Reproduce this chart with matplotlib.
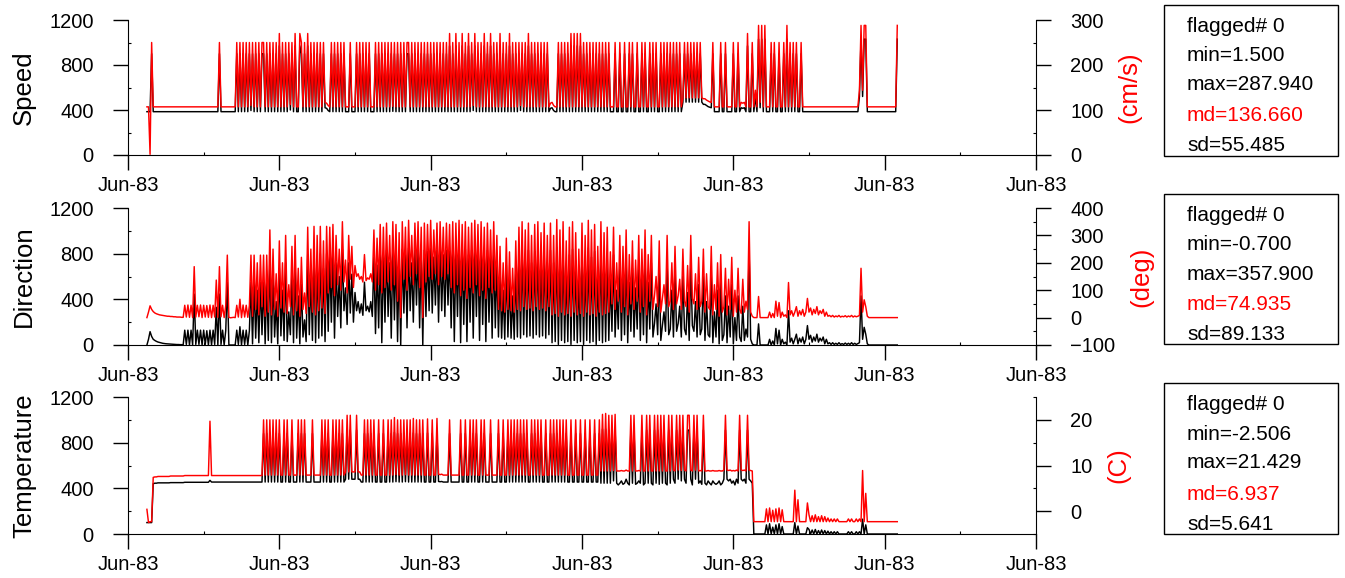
"""
Current meter record, three stacked panels: speed, direction, temperature.

Black trace = raw channel on the left axis, red trace = converted value on
the right axis. A small statistics box sits to the right of every panel.
"""

import matplotlib

matplotlib.use("Agg")
import matplotlib.dates as mdates
import matplotlib.pyplot as plt
import pandas as pd
from matplotlib.patches import Rectangle
from matplotlib.ticker import FixedLocator, MultipleLocator

plt.rcParams["font.family"] = ["Liberation Sans", "DejaVu Sans"]

# ============ data (hourly samples from 1983-06-02 12:00) ============
START = "1983-06-02 12:00"
STEP = "1h"

SPEED_CMS = [
    107, 107, 1.5, 250, 107, 107, 107, 107, 107, 107, 107, 107, 107, 107, 107, 107, 107, 107, 107, 107,
    107, 107, 107, 107, 107, 107, 107, 107, 107, 107, 107, 107, 107, 107, 107, 107, 107, 107, 107, 107,
    107, 107, 107, 107, 107, 107, 250, 107, 107, 107, 107, 107, 107, 107, 107, 107, 107, 250, 107, 250,
    107, 250, 107, 250, 107, 250, 110, 250, 107, 250, 107, 250, 107, 250, 250, 107, 250, 107, 250, 107,
    250, 107, 250, 107, 270, 107, 250, 107, 250, 107, 250, 112, 250, 107, 270, 107, 107, 270, 250, 107,
    250, 107, 270, 107, 250, 107, 250, 107, 250, 107, 250, 107, 250, 117, 115, 110, 107, 250, 107, 250,
    107, 250, 107, 250, 107, 250, 107, 107, 107, 250, 107, 107, 107, 250, 107, 250, 107, 250, 107, 250,
    107, 250, 107, 107, 107, 250, 107, 250, 107, 250, 107, 250, 107, 250, 107, 250, 108, 250, 107, 250,
    107, 250, 107, 250, 107, 250, 250, 107, 250, 107, 250, 107, 250, 107, 250, 107, 250, 107, 250, 107,
    250, 107, 250, 107, 250, 107, 250, 107, 250, 107, 250, 107, 270, 107, 250, 107, 270, 107, 250, 107,
    270, 107, 250, 107, 270, 107, 250, 110, 270, 107, 250, 107, 250, 107, 270, 107, 250, 107, 270, 107,
    250, 107, 250, 107, 270, 107, 250, 107, 250, 107, 270, 107, 250, 107, 250, 107, 250, 110, 250, 107,
    250, 107, 270, 107, 250, 107, 250, 107, 250, 107, 250, 107, 250, 107, 250, 107, 115, 117, 110, 107,
    107, 250, 107, 250, 107, 250, 107, 250, 107, 270, 107, 270, 107, 270, 107, 270, 107, 250, 107, 250,
    107, 250, 107, 250, 107, 250, 107, 250, 107, 250, 107, 250, 107, 250, 107, 107, 107, 250, 107, 107,
    250, 107, 107, 250, 107, 107, 250, 107, 250, 107, 107, 250, 107, 107, 250, 107, 250, 107, 107, 250,
    107, 250, 107, 250, 107, 107, 250, 107, 250, 107, 250, 107, 250, 107, 250, 107, 250, 107, 250, 107,
    127, 250, 127, 250, 127, 250, 127, 250, 127, 250, 127, 250, 127, 125, 125, 122, 120, 118, 117, 250,
    107, 107, 107, 107, 250, 107, 107, 250, 107, 107, 107, 107, 250, 107, 107, 250, 107, 117, 115, 117,
    107, 270, 107, 107, 250, 107, 144, 107, 288, 117, 288, 107, 288, 107, 107, 107, 250, 107, 250, 107,
    107, 250, 107, 107, 250, 107, 288, 107, 250, 107, 250, 107, 250, 107, 107, 250, 107, 107, 107, 107,
    107, 107, 107, 107, 107, 107, 107, 107, 107, 107, 107, 107, 107, 107, 107, 107, 107, 107, 107, 107,
    107, 107, 107, 107, 107, 107, 107, 107, 107, 107, 107, 107, 144, 288, 144, 288, 288, 107, 107, 107,
    107, 107, 107, 107, 107, 107, 107, 107, 107, 107, 107, 107, 107, 107, 107, 107, 288,
]
SPEED_RAW = [
    385, 385, 385, 900, 385, 385, 385, 385, 385, 385, 385, 385, 385, 385, 385, 385, 385, 385, 385, 385,
    385, 385, 385, 385, 385, 385, 385, 385, 385, 385, 385, 385, 385, 385, 385, 385, 385, 385, 385, 385,
    385, 385, 385, 385, 385, 385, 900, 385, 385, 385, 385, 385, 385, 385, 385, 385, 385, 900, 385, 900,
    385, 900, 385, 900, 385, 900, 395, 900, 385, 900, 385, 900, 385, 900, 900, 385, 900, 385, 900, 385,
    900, 385, 900, 385, 970, 385, 900, 385, 900, 385, 900, 400, 900, 385, 970, 385, 385, 970, 900, 385,
    900, 385, 970, 385, 900, 385, 900, 385, 900, 385, 900, 385, 900, 420, 415, 395, 385, 900, 385, 900,
    385, 900, 385, 900, 385, 900, 385, 385, 385, 900, 385, 385, 385, 900, 385, 900, 385, 900, 385, 900,
    385, 900, 385, 385, 385, 900, 385, 900, 385, 900, 385, 900, 385, 900, 385, 900, 388, 900, 385, 900,
    385, 900, 385, 900, 385, 900, 900, 385, 900, 385, 900, 385, 900, 385, 900, 385, 900, 385, 900, 385,
    900, 385, 900, 385, 900, 385, 900, 385, 900, 385, 900, 385, 970, 385, 900, 385, 970, 385, 900, 385,
    970, 385, 900, 385, 970, 385, 900, 395, 970, 385, 900, 385, 900, 385, 970, 385, 900, 385, 970, 385,
    900, 385, 900, 385, 970, 385, 900, 385, 900, 385, 970, 385, 900, 385, 900, 385, 900, 395, 900, 385,
    900, 385, 970, 385, 900, 385, 900, 385, 900, 385, 900, 385, 900, 385, 900, 385, 415, 420, 395, 385,
    385, 900, 385, 900, 385, 900, 385, 900, 385, 970, 385, 970, 385, 970, 385, 970, 385, 900, 385, 900,
    385, 900, 385, 900, 385, 900, 385, 900, 385, 900, 385, 900, 385, 900, 385, 385, 385, 900, 385, 385,
    900, 385, 385, 900, 385, 385, 900, 385, 900, 385, 385, 900, 385, 385, 900, 385, 900, 385, 385, 900,
    385, 900, 385, 900, 385, 385, 900, 385, 900, 385, 900, 385, 900, 385, 900, 385, 900, 385, 900, 385,
    470, 900, 470, 900, 470, 900, 470, 900, 470, 900, 470, 900, 470, 450, 450, 440, 430, 425, 420, 900,
    385, 385, 385, 385, 900, 385, 385, 900, 385, 385, 385, 385, 900, 385, 385, 900, 385, 420, 415, 420,
    385, 970, 385, 385, 900, 385, 520, 385, 1030, 420, 1030, 385, 1030, 385, 385, 385, 900, 385, 900, 385,
    385, 900, 385, 385, 900, 385, 1030, 385, 900, 385, 900, 385, 900, 385, 385, 900, 385, 385, 385, 385,
    385, 385, 385, 385, 385, 385, 385, 385, 385, 385, 385, 385, 385, 385, 385, 385, 385, 385, 385, 385,
    385, 385, 385, 385, 385, 385, 385, 385, 385, 385, 385, 385, 520, 1030, 520, 1030, 1030, 385, 385, 385,
    385, 385, 385, 385, 385, 385, 385, 385, 385, 385, 385, 385, 385, 385, 385, 385, 1030,
]

DIR_DEG = [
    0, 20, 43, 30, 22, 17, 14, 12, 10, 9, 8, 7, 6, 5, 5, 4, 4, 3, 3, 2,
    2, 2, 1, 1, 45, 2, 46, 1, 45, 0, 186, 2, 45, 3, 46, 0, 45, 2, 44, 1,
    46, 0, 45, 2, 137, 1, 186, 3, 45, 0, 44, 228, 1, -0.7, 0, 1, 0, 45, 2, 67,
    0, 46, 2, 45, 1, 44, 228, 5, 228, 30, 200, 10, 228, 40, 228, 5, 228, 20, 320, 10,
    250, 30, 160, 5, 280, 35, 200, 20, 300, 15, 120, 40, 260, 10, 300, 25, 180, 5, 220, 30,
    90, 15, 330, 40, 250, 20, 333, 10, 300, 25, 333, 35, 280, 15, 333, 90, 330, 110, 340, 80,
    300, 120, 250, 100, 350, 130, 210, 90, 300, 140, 260, 110, 190, 150, 160, 140, 150, 130, 230, 135,
    145, 140, 160, 130, 320, 100, 290, 120, 340, 90, 330, 110, 345, 130, 300, 100, 350, 120, 340, 60,
    310, 0, 350, 140, 330, 100, 355, 150, 300, 120, 345, 160, 350, 110, 330, 0, 345, 130, 340, 150,
    355, 140, 320, 160, 345, 120, 350, 150, 330, 140, 345, 160, 340, 110, 350, 90, 345, 120, 355, 80,
    340, 100, 350, 70, 330, 110, 345, 90, 355, 120, 340, 80, 350, 100, 330, 70, 345, 110, 320, 90,
    350, 100, 300, 30, 260, 25, 200, 20, 290, 30, 240, 25, 180, 20, 280, 30, 330, 25, 350, 40,
    320, 30, 345, 35, 300, 25, 340, 40, 350, 30, 310, 35, 345, 25, 300, 40, 345, 10, 300, 15,
    357.9, 5, 320, 20, 350, 10, 280, 15, 330, 5, 350, 20, 310, 10, 250, 15, 345, 5, 300, 20,
    355, 10, 320, 15, 340, 5, 260, 20, 350, 10, 310, 15, 330, 20, 240, 50, 330, 30, 200, 60,
    300, 20, 260, 40, 320, 10, 230, 50, 280, 30, 210, 60, 300, 20, 250, 40, 320, 10, 230, 60,
    300, 30, 80, 150, 40, 280, 20, 70, 120, 50, 300, 40, 60, 200, 30, 260, 50, 80, 140, 30,
    250, 60, 40, 190, 20, 300, 70, 50, 160, 30, 220, 40, 60, 250, 20, 160, 40, 30, 260, 10,
    120, 30, 200, 5, 230, 20, 40, 180, 10, 140, 30, 220, 5, 100, 20, 180, 30, 15, 140, 20,
    60, 30, 350, 20, 5, 0, 0, 0, 77, 0, 0, 0, 0, 0, 0, 20, 0, 15, 0, 60,
    5, 55, 0, 20, 5, 10, 0, 128, 10, 25, 5, 20, 40, 5, 25, 10, 30, 5, 20, 70,
    20, 35, 10, 30, 15, 40, 10, 25, 15, 30, 5, 20, 5, 8, 3, 8, 2, 6, 3, 8,
    2, 5, 3, 7, 2, 6, 3, 8, 2, 6, 3, 5, 8, 180, 20, 65, 40, 5, 0, 0,
    0, 0, 0, 0, 0, 0, 0, 0, 0, 0, 0, 0, 0, 0, 0, 0, 0,
]
DIR_RAW = [
    0, 50, 117, 75, 50, 40, 32, 26, 22, 18, 15, 13, 11, 10, 9, 8, 7, 6, 5, 4,
    4, 3, 3, 2, 130, 5, 130, 0, 130, 0, 446, 5, 130, 5, 130, 0, 130, 5, 125, 0,
    130, 0, 130, 5, 330, 0, 446, 5, 130, 0, 125, 550, 0, 0, 0, 0, 0, 130, 5, 160,
    0, 130, 5, 130, 0, 125, 550, 10, 550, 60, 480, 20, 550, 90, 550, 10, 550, 40, 770, 20,
    600, 70, 380, 10, 670, 80, 480, 40, 720, 30, 290, 90, 620, 20, 720, 60, 430, 10, 530, 70,
    220, 30, 790, 90, 600, 40, 800, 20, 720, 60, 800, 80, 670, 30, 800, 120, 790, 200, 810, 60,
    720, 250, 600, 150, 840, 300, 500, 180, 720, 280, 620, 200, 460, 300, 380, 280, 360, 260, 550, 300,
    340, 290, 380, 250, 770, 100, 700, 150, 820, 20, 790, 200, 830, 250, 720, 60, 840, 220, 820, 30,
    740, 0, 840, 280, 790, 150, 850, 300, 720, 200, 830, 350, 840, 150, 790, 0, 830, 250, 820, 300,
    850, 280, 770, 350, 830, 200, 840, 300, 790, 250, 830, 350, 820, 150, 840, 30, 830, 250, 850, 20,
    820, 180, 840, 30, 790, 200, 830, 60, 850, 250, 820, 40, 840, 180, 790, 30, 830, 200, 770, 60,
    840, 150, 720, 70, 620, 60, 480, 50, 700, 70, 580, 60, 430, 50, 670, 70, 790, 60, 840, 90,
    770, 70, 830, 80, 720, 60, 820, 90, 840, 70, 740, 80, 830, 60, 720, 90, 830, 20, 720, 30,
    855, 5, 770, 40, 840, 20, 670, 30, 790, 5, 840, 40, 740, 20, 600, 30, 830, 5, 720, 40,
    850, 20, 770, 30, 820, 5, 620, 40, 840, 20, 740, 30, 790, 40, 580, 120, 790, 70, 480, 140,
    720, 40, 620, 90, 770, 20, 550, 120, 670, 70, 500, 140, 720, 40, 600, 90, 770, 20, 550, 140,
    720, 70, 190, 360, 90, 670, 40, 170, 290, 120, 720, 90, 140, 480, 70, 620, 120, 190, 340, 70,
    600, 140, 90, 460, 40, 720, 170, 120, 380, 70, 530, 90, 140, 600, 40, 380, 90, 70, 620, 20,
    290, 70, 480, 10, 550, 40, 90, 430, 20, 340, 70, 530, 10, 240, 40, 430, 70, 30, 340, 40,
    140, 70, 840, 50, 10, 0, 0, 0, 185, 0, 0, 0, 0, 0, 0, 50, 0, 35, 0, 145,
    10, 130, 0, 50, 10, 25, 0, 300, 25, 60, 10, 50, 95, 10, 60, 25, 70, 10, 50, 170,
    50, 85, 25, 70, 35, 95, 25, 60, 35, 70, 10, 50, 10, 20, 5, 20, 5, 15, 5, 20,
    5, 12, 5, 17, 5, 15, 5, 20, 5, 15, 5, 12, 20, 430, 50, 155, 95, 10, 0, 0,
    0, 0, 0, 0, 0, 0, 0, 0, 0, 0, 0, 0, 0, 0, 0, 0, 0,
]

TEMP_C = [
    0.4, -2.5, -2.3, -2.3, 7.4, 7.5, 7.5, 7.6, 7.6, 7.6, 7.6, 7.6, 7.6, 7.6, 7.6, 7.7, 7.7, 7.7, 7.7, 7.7,
    7.7, 7.7, 7.7, 7.7, 7.8, 7.8, 7.8, 7.8, 7.8, 7.8, 7.8, 7.8, 7.8, 7.8, 7.8, 7.8, 7.8, 7.8, 7.8, 7.8,
    19.7, 7.8, 7.8, 7.8, 7.8, 7.8, 7.8, 7.8, 7.8, 7.8, 7.8, 7.8, 7.8, 7.8, 7.8, 7.8, 7.8, 7.8, 7.8, 7.8,
    7.8, 7.8, 7.8, 7.8, 7.8, 7.8, 7.8, 7.8, 7.8, 7.8, 7.8, 7.8, 7.8, 7.8, 20, 7.9, 20, 7.9, 20, 7.9,
    20, 7.9, 20, 7.9, 20, 7.9, 7.9, 20, 7.9, 20, 7.9, 7.9, 20, 7.9, 7.9, 7.9, 20, 7.9, 20, 7.9,
    20, 7.9, 7.9, 7.9, 7.9, 20, 7.9, 7.9, 7.9, 7.9, 7.9, 20, 7.9, 20, 7.9, 20, 7.9, 7.9, 20, 7.9,
    20, 7.9, 20, 7.9, 20, 7.9, 8.6, 21, 8.6, 21, 8.6, 8.6, 8.6, 21, 8.6, 8.6, 7.9, 7.9, 20, 7.9,
    20, 7.9, 20, 7.9, 20, 7.9, 7.9, 20, 7.9, 7.9, 20, 7.9, 7.9, 20, 7.9, 20, 7.9, 20.5, 8.0, 20,
    7.9, 20, 7.9, 20, 8.0, 20, 7.9, 20, 7.9, 20.3, 7.9, 20, 7.9, 20, 7.9, 20, 7.9, 7.9, 20.2, 7.9,
    7.9, 20, 7.9, 7.9, 20.3, 8.1, 8.0, 8.1, 7.9, 7.9, 7.9, 7.9, 20, 7.9, 7.9, 7.9, 7.9, 7.9, 7.9, 20,
    7.9, 7.9, 20, 7.9, 7.9, 20, 7.9, 20, 7.9, 20, 7.9, 7.9, 20, 7.9, 20, 7.9, 7.9, 7.9, 20, 7.9,
    7.9, 7.9, 7.9, 20, 7.9, 7.9, 20, 7.9, 7.9, 20, 7.9, 20, 7.9, 20, 7.9, 20, 7.9, 20, 7.9, 20,
    7.9, 20, 7.9, 7.9, 20, 7.9, 20, 7.9, 20, 7.9, 20, 7.9, 7.9, 20, 7.9, 7.9, 20, 7.9, 20, 7.9,
    20, 7.9, 20, 7.9, 20, 7.9, 20, 7.9, 7.9, 20, 7.9, 7.9, 20, 7.9, 7.9, 20, 7.9, 7.9, 20, 7.9,
    7.9, 20, 7.9, 7.9, 20, 7.9, 7.9, 20, 8.8, 21.2, 8.8, 21.4, 8.8, 21, 8.8, 21, 8.9, 21.2, 8.8, 8.8,
    8.8, 8.9, 8.8, 8.8, 9.0, 8.8, 8.8, 21, 8.8, 21, 8.8, 8.8, 8.9, 8.8, 21, 8.8, 8.8, 21, 8.8, 21,
    8.8, 8.8, 21, 8.8, 21, 8.8, 21, 8.8, 21, 8.8, 8.8, 21, 8.8, 21, 9.0, 8.8, 21, 9.0, 21, 8.9,
    21, 9.0, 8.8, 21, 21, 9.0, 8.8, 21, 9.0, 21, 8.8, 8.9, 8.8, 21, 8.8, 8.8, 8.9, 8.8, 8.8, 8.9,
    8.8, 8.8, 8.8, 8.9, 8.8, 8.8, 9.0, 21, 9.0, 8.9, 9.0, 8.8, 8.9, 8.8, 9.0, 8.8, 21, 9.0, 8.9, 9.0,
    8.8, 21, 9.0, 8.9, 8.8, -2.3, -2.3, -2.3, -2.3, -2.3, -2.3, -2.3, -2.3, 0.5, -2.3, 0.7, -2.3, 0.2, -2.3, 0.5,
    -2.3, 0.7, -2.3, 0.3, -2.3, -2.3, -2.3, -2.3, -2.3, -2.3, -2.3, 4.6, -2.3, 2.5, -2.3, -2.3, -2.3, -2.3, -2.3, 1.8,
    -0.8, -2.3, -1.0, -2.3, -0.8, -2.3, -1.2, -2.3, -1.0, -2.3, -1.2, -2.3, -1.5, -2.3, -1.7, -2.3, -1.7, -2.3, -1.7, -2.3,
    -2.3, -2.3, -2.3, -2.3, -2.3, -1.7, -2.3, -1.7, -2.3, -2.3, -1.7, -2.3, -1.7, -2.3, 8.9, -2.3, 3.9, -2.3, -2.3, -2.3,
    -2.3, -2.3, -2.3, -2.3, -2.3, -2.3, -2.3, -2.3, -2.3, -2.3, -2.3, -2.3, -2.3, -2.3, -2.3, -2.3, -2.3,
]
TEMP_RAW = [
    100, 100, 100, 100, 440, 445, 445, 448, 448, 448, 448, 448, 448, 448, 448, 450, 450, 450, 450, 450,
    450, 450, 450, 450, 453, 453, 453, 453, 453, 453, 453, 453, 453, 453, 453, 453, 453, 453, 453, 453,
    470, 455, 455, 455, 455, 455, 455, 455, 455, 455, 455, 455, 455, 455, 455, 455, 455, 455, 455, 455,
    455, 455, 455, 455, 455, 455, 455, 455, 455, 455, 455, 455, 455, 455, 880, 455, 880, 455, 880, 455,
    880, 455, 880, 455, 880, 455, 455, 880, 455, 880, 455, 455, 880, 455, 455, 455, 880, 455, 880, 455,
    880, 455, 455, 455, 455, 880, 455, 455, 455, 455, 455, 880, 455, 880, 455, 880, 455, 455, 880, 455,
    880, 455, 880, 455, 880, 455, 480, 910, 480, 910, 480, 480, 480, 910, 480, 480, 455, 455, 880, 455,
    880, 455, 880, 455, 880, 455, 455, 880, 455, 455, 880, 455, 455, 880, 455, 880, 455, 890, 458, 880,
    455, 880, 455, 880, 458, 880, 455, 880, 455, 885, 455, 880, 455, 880, 455, 880, 455, 455, 885, 455,
    455, 880, 455, 455, 885, 460, 458, 460, 455, 455, 455, 455, 880, 455, 455, 455, 455, 455, 455, 880,
    455, 455, 880, 455, 455, 880, 455, 880, 455, 880, 455, 455, 880, 455, 880, 455, 455, 455, 880, 455,
    455, 455, 455, 880, 455, 455, 880, 455, 455, 880, 455, 880, 455, 880, 455, 880, 455, 880, 455, 880,
    455, 880, 455, 455, 880, 455, 880, 455, 880, 455, 880, 455, 455, 880, 455, 455, 880, 455, 880, 455,
    880, 455, 880, 455, 880, 455, 880, 455, 455, 880, 455, 455, 880, 455, 455, 880, 455, 455, 880, 455,
    455, 880, 455, 455, 880, 455, 455, 880, 445, 920, 445, 920, 445, 910, 445, 910, 465, 920, 445, 430,
    445, 465, 435, 445, 480, 445, 430, 910, 445, 910, 435, 445, 465, 445, 910, 430, 445, 910, 445, 910,
    445, 430, 910, 445, 910, 435, 910, 445, 910, 445, 430, 910, 445, 910, 480, 445, 910, 480, 910, 465,
    910, 480, 445, 910, 910, 480, 430, 910, 480, 910, 445, 465, 435, 910, 445, 430, 465, 445, 430, 465,
    445, 435, 445, 465, 430, 445, 480, 910, 480, 465, 480, 445, 465, 430, 480, 445, 910, 480, 465, 480,
    445, 910, 480, 465, 445, 0, 0, 0, 0, 0, 0, 0, 0, 80, 0, 90, 0, 60, 0, 80,
    0, 90, 0, 65, 0, 0, 0, 0, 0, 0, 0, 100, 0, 70, 0, 0, 0, 0, 0, 55,
    40, 0, 35, 0, 40, 0, 30, 0, 35, 0, 30, 0, 25, 0, 20, 0, 20, 0, 20, 0,
    0, 0, 0, 0, 0, 20, 0, 20, 0, 0, 20, 0, 20, 0, 130, 0, 80, 0, 0, 0,
    0, 0, 0, 0, 0, 0, 0, 0, 0, 0, 0, 0, 0, 0, 0, 0, 0,
]

YLABELS = ["Speed", "Direction", "Temperature"]
UNITS = ["(cm/s)", "(deg)", "(C)"]
STATS = [
    ["flagged# 0", "min=1.500", "max=287.940", "md=136.660", "sd=55.485"],
    ["flagged# 0", "min=-0.700", "max=357.900", "md=74.935", "sd=89.133"],
    ["flagged# 0", "min=-2.506", "max=21.429", "md=6.937", "sd=5.641"],
]

# ============ layout (pixels of a 1345x578 canvas) ============
W, H = 1345, 578
AX_LEFT, AX_RIGHT = 128, 1036
AX_ROWS = [(20, 155), (208, 345), (397, 534)]
BOX_LEFT, BOX_RIGHT = 1164, 1338
BOX_ROWS = [(4.7, 155.7), (194, 344.3), (383, 534)]
TEXT_X = 1187
TEXT_BASELINES = [27, 56.5, 85.5, 116.5, 146.5]
TRACE_LW = 1.05

RIGHT_SCALES = [
    {"lim": (0, 300), "major": [0, 100, 200, 300], "minor": 50},
    {"lim": (-100, 400), "major": [-100, 0, 100, 200, 300, 400], "minor": 50},
    {"lim": (-5, 25), "major": [0, 10, 20], "minor": 5},
]


def style_ticks(a):
    a.tick_params(which="major", direction="out", length=10.8, width=1.0,
                  labelsize=14.5, pad=14)
    a.tick_params(which="minor", direction="in", length=2.5, width=0.8)


def draw_panel(fig, row, raw, values):
    top, bottom = AX_ROWS[row]
    ax = fig.add_axes([AX_LEFT / W, 1 - bottom / H,
                       (AX_RIGHT - AX_LEFT) / W, (bottom - top) / H])

    # 左轴: 原始通道(黑)
    ax.plot(pd.date_range(START, periods=len(raw), freq=STEP), raw,
            color="black", linewidth=TRACE_LW)
    ax.set_ylim(0, 1200)
    ax.yaxis.set_major_locator(MultipleLocator(400))
    ax.yaxis.set_minor_locator(MultipleLocator(200))
    ax.set_xlim(pd.Timestamp("1983-06-02"), pd.Timestamp("1983-06-26"))
    ax.xaxis.set_major_locator(mdates.DayLocator(bymonthday=range(2, 31, 4)))
    ax.xaxis.set_minor_locator(mdates.DayLocator(bymonthday=range(4, 31, 4)))
    ax.xaxis.set_major_formatter(mdates.DateFormatter("%b-%y"))
    style_ticks(ax)
    ax.tick_params(axis="x", pad=4)
    ax.spines[["top", "right"]].set_visible(False)

    # 右轴: 换算后的数值(红)
    twin = ax.twinx()
    twin.plot(pd.date_range(START, periods=len(values), freq=STEP), values,
              color="red", linewidth=TRACE_LW)
    scale = RIGHT_SCALES[row]
    twin.set_ylim(*scale["lim"])
    twin.yaxis.set_major_locator(FixedLocator(scale["major"]))
    twin.yaxis.set_minor_locator(MultipleLocator(scale["minor"]))
    style_ticks(twin)
    twin.spines[["top", "left", "bottom"]].set_visible(False)
    twin.set_ylabel(UNITS[row], color="red", fontsize=18.5, labelpad=10)

    fig.text(24 / W, 1 - (top + bottom) / 2 / H, YLABELS[row], rotation=90,
             ha="center", va="center", fontsize=18.5)

    # 统计信息框
    btop, bbot = BOX_ROWS[row]
    fig.add_artist(Rectangle((BOX_LEFT / W, 1 - bbot / H),
                             (BOX_RIGHT - BOX_LEFT) / W, (bbot - btop) / H,
                             transform=fig.transFigure, fill=False,
                             edgecolor="black", linewidth=1.0))
    for line, off in zip(STATS[row], TEXT_BASELINES):
        fig.text(TEXT_X / W, 1 - (btop + off) / H, line, fontsize=15,
                 va="baseline", ha="left",
                 color="red" if line.startswith("md=") else "black")
    return ax, twin


fig = plt.figure(figsize=(W / 100, H / 100), dpi=100)
draw_panel(fig, 0, SPEED_RAW, SPEED_CMS)
draw_panel(fig, 1, DIR_RAW, DIR_DEG)
draw_panel(fig, 2, TEMP_RAW, TEMP_C)
fig.savefig("out.png", dpi=100)
plt.close(fig)
